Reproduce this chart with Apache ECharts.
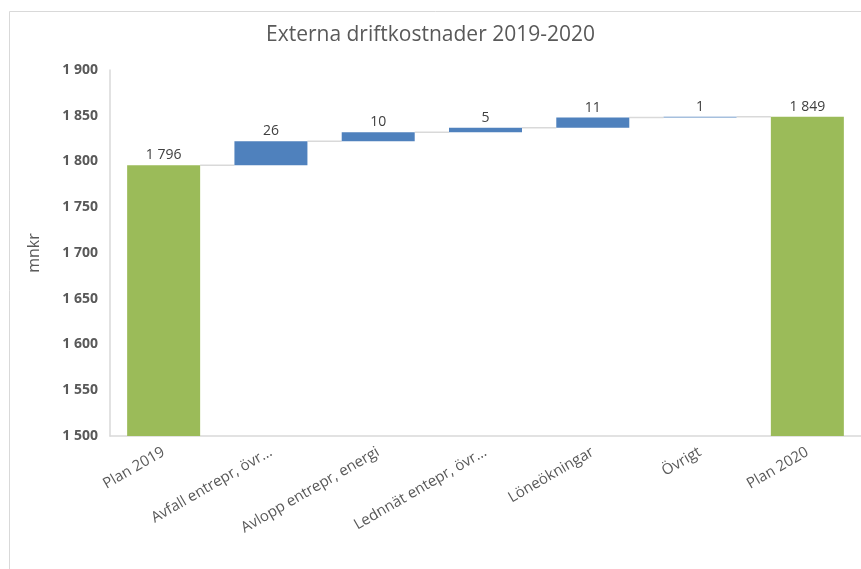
<!DOCTYPE html>
<html>
<head>
<meta charset="utf-8">
<script src="https://cdn.jsdelivr.net/npm/echarts@6/dist/echarts.min.js"></script>
<style>html,body{margin:0;padding:0;background:#fff;}#c{width:861px;height:569px;}</style>
</head>
<body>
<div id="c"></div>
<script>
const categories = ['Plan 2019', 'Avfall entrepr, övr…', 'Avlopp entrepr, energi', 'Lednnät entepr, övr…', 'Löneökningar', 'Övrigt', 'Plan 2020'];
const planValues = [1796, null, null, null, null, null, 1849];
const changeValues = [null, 26, 10, 5, 11, 1, null];
const yTicks = { min: 1500, max: 1900, interval: 50 };

const fmt = v => {
  const s = String(Math.round(v));
  return s.replace(/\B(?=(\d{3})+(?!\d))/g, ' ');
};

// running totals
const levels = [];
let run = 0;
categories.forEach((c, i) => {
  if (planValues[i] != null) run = planValues[i];
  else run += changeValues[i];
  levels.push(run);
});
const base = categories.map((c, i) => changeValues[i] != null ? levels[i] - changeValues[i] : '-');
const plan = planValues.map(v => v == null ? '-' : v);
const change = changeValues.map(v => v == null ? '-' : v);
const connectorData = levels.slice(0, -1).map((lv, i) => [i, lv]);

const BW = 73;
const font = 'Open Sans';
const chart = echarts.init(document.getElementById('c'));
chart.setOption({
  animation: false,
  textStyle: { fontFamily: font },
  title: {
    text: 'Externa driftkostnader 2019-2020',
    left: 'center', top: 20,
    textStyle: { fontFamily: font, fontSize: 21, fontWeight: 'normal', color: '#595959' }
  },
  graphic: [{
    type: 'rect', left: 7, top: 9, z: -1,
    shape: { width: 900, height: 600 },
    style: { fill: 'none', stroke: '#d9d9d9', lineWidth: 1 }
  }],
  grid: { left: 110, right: 0, top: 70, bottom: 133 },
  xAxis: {
    type: 'category', data: categories,
    axisLine: { lineStyle: { color: '#d9d9d9', width: 1.5 } },
    axisTick: { show: false },
    axisLabel: { rotate: 30, interval: 0, color: '#595959', fontSize: 15, margin: 15, fontFamily: font }
  },
  yAxis: {
    type: 'value', min: yTicks.min, max: yTicks.max, interval: yTicks.interval,
    name: 'mnkr', nameLocation: 'middle', nameGap: 68, nameRotate: 90,
    nameTextStyle: { color: '#595959', fontSize: 16, fontFamily: font },
    axisLine: { show: true, lineStyle: { color: '#d9d9d9', width: 1.5 } },
    axisTick: { show: false },
    splitLine: { show: false },
    axisLabel: { color: '#595959', fontSize: 14, fontWeight: 'bold', margin: 12, formatter: v => fmt(v), fontFamily: font }
  },
  series: [
    {
      type: 'custom', z: 1, silent: true, data: connectorData,
      encode: { x: 0, y: 1 },
      renderItem: (params, api) => {
        const i = api.value(0), lv = api.value(1);
        const p1 = api.coord([i, lv]);
        const p2 = api.coord([i + 1, lv]);
        return {
          type: 'line',
          shape: { x1: p1[0] + BW / 2, y1: p1[1], x2: p2[0] - BW / 2, y2: p2[1] },
          style: { stroke: '#d9d9d9', lineWidth: 1.5 }
        };
      }
    },
    {
      name: 'base', type: 'bar', stack: 'w', data: base, barWidth: BW, z: 2,
      itemStyle: { color: 'transparent' }, silent: true
    },
    {
      name: 'change', type: 'bar', stack: 'w', data: change, barWidth: BW, z: 2,
      itemStyle: { color: '#4F81BD' },
      label: { show: true, position: 'top', color: '#404040', fontSize: 14, distance: 3, formatter: p => fmt(p.value), fontFamily: font }
    },
    {
      name: 'plan', type: 'bar', stack: 'w', data: plan, barWidth: BW, z: 2,
      itemStyle: { color: '#9BBB59' },
      label: { show: true, position: 'top', color: '#404040', fontSize: 14, distance: 3, formatter: p => fmt(p.value), fontFamily: font }
    }
  ]
});
</script>
</body>
</html>
